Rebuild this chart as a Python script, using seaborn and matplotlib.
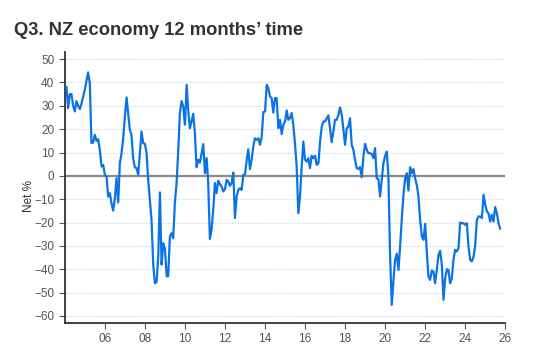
import pandas as pd
import matplotlib
matplotlib.use("Agg")
import matplotlib.pyplot as plt
import matplotlib.dates as mdates
import seaborn as sns

# Valores mensuales (saldo neto %), enero 2004 - octubre 2025
inicio = "2004-01-01"
valores_04_07 = [38.6, 38, 29, 35, 35, 30, 27.6, 32, 30, 28.6, 31, 34,
                 37, 41, 44.3, 39.7, 14, 14.3, 17.6, 15, 15.7, 11, 4, 4.7,
                 0.4, -0.3, -8.9, -7.4, -11.7, -14.9, -10, -1, -11.4, 5.4, 9.7, 16,
                 25.4, 33.6, 26.9, 19.7, 17.6, 7.6, 3.7, 3.3, 0.4, 9.7, 19, 14]
valores_08_11 = [13.7, 9.7, -1.7, -10.3, -18.9, -38, -46, -45.6, -34.6, -7.1, -38, -28.9,
                 -31.4, -43, -43, -26, -24.6, -26.7, -11.7, -3, 11, 27, 32, 29.7,
                 21.9, 39, 28.3, 20.4, 23.3, 26.6, 18.3, 3.7, 6.9, 5.7, 9.7, 13.6,
                 1.1, 7.6, -3, -27, -23, -14.6, -3.1, -7.4, -2.1, -3.6, -4.6, -6.7]
valores_12_15 = [-5.7, -1.7, -2.4, -4.3, -3.1, 1.4, -18.1, -8.9, -6, -5.3, -6, 0.4,
                 0.7, 6.9, 11.4, 2.9, 6.9, 12.6, 16.1, 15.4, 16.1, 13.3, 16.6, 27.3,
                 27.6, 39, 37.6, 34, 33.3, 27.1, 33.3, 33.3, 20.4, 24, 17.9, 21.9,
                 23.3, 28, 24, 24.7, 26.9, 21.9, 14, 4, -16, -8.9, 4, 14.7]
valores_16_19 = [6.9, 6.1, 7.6, 3.3, 8.6, 7.6, 8.6, 4.7, 5.4, 14.7, 21.1, 23.3,
                 23.3, 24.7, 25.9, 20.4, 14.4, 19, 24, 24, 26.1, 29.3, 26.1, 19.7,
                 13.3, 20.4, 21.1, 24.7, 13.3, 11.1, 6.9, 3.3, 3, 3.7, -0.6, 8.3,
                 13.7, 11.1, 9.7, 9.7, 9.4, 7.6, 11.9, -1, -1.4, -8.9, -1.7, 5.4]
valores_20_25 = [8.6, 10.4, 0, -34.6, -55.3, -45, -36, -33.4, -40.3, -30, -18.1, -8,
                 -1, 1.1, -6.3, 3.7, 1.1, 2.9, -1, -3.9, -8.9, -18.9, -26, -27.4,
                 -20.5, -33, -43.1, -44.6, -40.6, -41, -46, -40.3, -33.9, -32.1, -38, -53.1,
                 -43.9, -40, -40.3, -46, -44, -36, -31.7, -32.4, -31, -20, -20.3, -20.3,
                 -21, -20.3, -30.3, -36, -36.7, -34.6, -30, -18.9, -17.4, -17.4, -18.1, -8.1,
                 -12.4, -15.3, -16, -19.6, -16.7, -19.6, -13.4, -16, -20.3, -22.7]

valores = valores_04_07 + valores_08_11 + valores_12_15 + valores_16_19 + valores_20_25
fechas = pd.date_range(inicio, periods=len(valores), freq="MS")
df = pd.DataFrame({"fecha": fechas, "neto": valores})

sns.set_style("white")
plt.rcParams["font.family"] = ["Liberation Sans", "DejaVu Sans"]

fig = plt.figure(figsize=(5.54, 3.62), dpi=100)
ax = fig.add_axes([0.117, 0.108, 0.795, 0.748])

# Rejilla punteada y línea del cero
for v in range(-60, 51, 10):
    ax.axhline(v, color="#c6d2db", linestyle=(0, (1, 1.5)), linewidth=0.8, zorder=0)
ax.axhline(0, color="#8a8a8a", linewidth=1.6, zorder=1)

sns.lineplot(x="fecha", y="neto", data=df, ax=ax, color="#0b74e5", linewidth=1.6, zorder=3)

ax.set_xlim(pd.Timestamp("2004-01-01"), pd.Timestamp("2026-01-01"))
ax.set_ylim(-63, 53)
ax.set_yticks(range(-60, 51, 10))
ax.xaxis.set_major_locator(mdates.YearLocator(2, month=1, day=1))
ax.xaxis.set_major_formatter(mdates.DateFormatter("%y"))
ax.set_xticks([t for t in ax.get_xticks() if t > mdates.date2num(pd.Timestamp("2005-01-01"))])

ax.set_xlabel("")
ax.set_ylabel("Net %", fontsize=8.5, color="#333333")
ax.yaxis.set_label_coords(-0.068, 0.47)

for lado in ["top", "right"]:
    ax.spines[lado].set_visible(False)
for lado in ["left", "bottom"]:
    ax.spines[lado].set_color("#333333")
    ax.spines[lado].set_linewidth(1.3)

ax.tick_params(axis="both", direction="out", length=4, width=0.8, color="#555555",
               labelsize=8.5, labelcolor="#555555", left=True, bottom=True)

fig.text(0.025, 0.917, "Q3. NZ economy 12 months\u2019 time", fontsize=13.2, fontweight="bold",
         color="#333333", ha="left", va="center")

plt.savefig("out.png", dpi=100)
